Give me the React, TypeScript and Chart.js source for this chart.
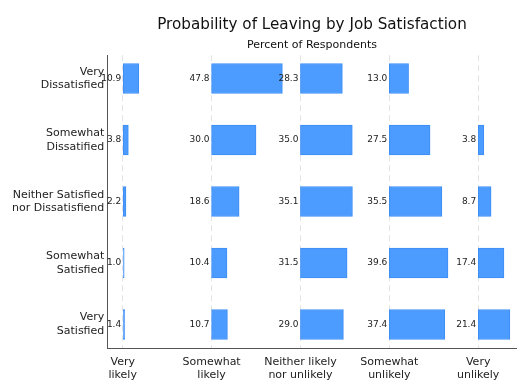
import React, { useEffect, useRef } from "react";
import { Chart, registerables } from "chart.js";

Chart.register(...registerables);

const satisfaction = [
  ["Very", "Dissatisfied"],
  ["Somewhat", "Dissatified"],
  ["Neither Satisfied", "nor Dissatisfiend"],
  ["Somewhat", "Satisfied"],
  ["Very", "Satisfied"],
];

const likelihood = [
  ["Very", "likely"],
  ["Somewhat", "likely"],
  ["Neither likely", "nor unlikely"],
  ["Somewhat", "unlikely"],
  ["Very", "unlikely"],
];

// percent of respondents, one array per likelihood column (rows = satisfaction)
const veryLikely = [10.9, 3.8, 2.2, 1.0, 1.4];
const somewhatLikely = [47.8, 30.0, 18.6, 10.4, 10.7];
const neitherLikely = [28.3, 35.0, 35.1, 31.5, 29.0];
const somewhatUnlikely = [13.0, 27.5, 35.5, 39.6, 37.4];
const veryUnlikely = [null, 3.8, 8.7, 17.4, 21.4];

const columns = [veryLikely, somewhatLikely, neitherLikely, somewhatUnlikely, veryUnlikely];
const COLUMN_SPAN = 60;

const FONT = "'DejaVu Sans', sans-serif";

const valueLabels = {
  id: "valueLabels",
  afterDatasetsDraw(chart: any) {
    const ctx = chart.ctx;
    ctx.save();
    ctx.font = `9px ${FONT}`;
    ctx.fillStyle = "#222";
    ctx.textAlign = "right";
    ctx.textBaseline = "middle";
    chart.data.datasets.forEach((ds: any, di: number) => {
      const meta = chart.getDatasetMeta(di);
      meta.data.forEach((el: any, i: number) => {
        const raw = ds.data[i];
        if (!raw) return;
        const v = raw.x[1] - raw.x[0];
        ctx.fillText(v.toFixed(1), el.base - 2, el.y);
      });
    });
    ctx.restore();
  },
};

export default function App() {
  const ref = useRef<HTMLCanvasElement>(null);
  useEffect(() => {
    if (!ref.current) return;
    const datasets = columns.map((vals, j) => ({
      label: likelihood[j].join(" "),
      data: vals
        .map((v, i) => (v == null ? null : { x: [j * COLUMN_SPAN, j * COLUMN_SPAN + v], y: i }))
        .filter((d) => d !== null),
      backgroundColor: "#4c9bff",
      borderColor: "#3d8ef5",
      borderWidth: 1,
      borderSkipped: false,
      barThickness: 30,
      grouped: false,
    }));
    const chart = new Chart(ref.current, {
      type: "bar",
      data: { datasets } as any,
      options: {
        animation: false,
        responsive: true,
        maintainAspectRatio: false,
        indexAxis: "y",
        layout: { padding: { left: 0, right: 11.3, top: 0, bottom: 0 } },
        plugins: {
          legend: { display: false },
          tooltip: { enabled: false },
          title: {
            display: true,
            text: "Probability of Leaving by Job Satisfaction",
            fullSize: false,
            color: "#111",
            font: { family: FONT, size: 15.2, weight: "normal", lineHeight: 1.2 },
            padding: { top: 16, bottom: 2 },
          },
          subtitle: {
            display: true,
            text: "Percent of Respondents",
            fullSize: false,
            color: "#111",
            font: { family: FONT, size: 11, weight: "normal", lineHeight: 1.2 },
            padding: { top: 2.4, bottom: 3.4 },
          },
        },
        scales: {
          x: {
            type: "linear",
            offset: false,
            min: -10.4,
            max: 266,
            afterBuildTicks: (scale: any) => {
              scale.ticks = likelihood.map((_, j) => ({ value: j * COLUMN_SPAN }));
            },
            afterFit: (scale: any) => {
              scale.height = 35.7;
            },
            ticks: {
              autoSkip: false,
              maxRotation: 0,
              padding: 7,
              color: "#222",
              font: { family: FONT, size: 11, lineHeight: 1.2 },
              callback: (v: any) => likelihood[Math.round(Number(v) / COLUMN_SPAN)],
            },
            grid: {
              display: true,
              offset: false,
              drawTicks: false,
              color: "#e3e3e3",
              lineWidth: 1,
              tickLength: 0,
            },
            border: { display: true, color: "#555", width: 1, dash: [6, 4] },
          },
          y: {
            type: "linear",
            offset: false,
            reverse: true,
            min: -0.379,
            max: 4.387,
            afterBuildTicks: (scale: any) => {
              scale.ticks = satisfaction.map((_, i) => ({ value: i }));
            },
            afterFit: (scale: any) => {
              scale.width = 107.3;
            },
            ticks: {
              autoSkip: false,
              padding: 3,
              color: "#222",
              font: { family: FONT, size: 11, lineHeight: 1.25 },
              callback: (v: any) => satisfaction[Math.round(Number(v))],
            },
            grid: { display: false, offset: false, drawTicks: false, tickLength: 0 },
            border: { display: true, color: "#555", width: 1 },
          },
        },
      } as any,
      plugins: [valueLabels],
    });
    return () => chart.destroy();
  }, []);
  return (
    <div style={{ position: "fixed", left: 0, top: 0, width: 528, height: 384 }}>
      <canvas ref={ref} />
    </div>
  );
}
